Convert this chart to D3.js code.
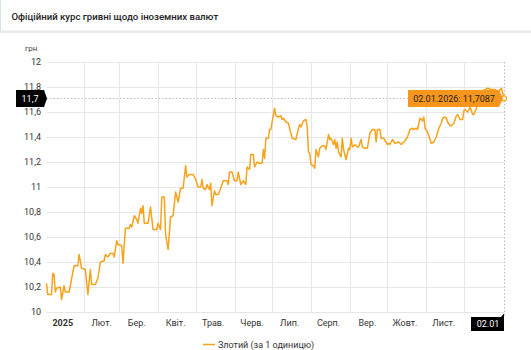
<!DOCTYPE html>
<html>
<head>
<meta charset="utf-8">
<script src="https://cdn.jsdelivr.net/npm/d3@7"></script>
<style>
  body { margin: 0; background: #fff; font-family: Roboto, "Noto Sans", sans-serif; }
  svg { display: block; }
</style>
</head>
<body>
<div id="chart"></div>
<script>
// --- Data ---
const title = "Офіційний курс гривні щодо іноземних валют";
const seriesName = "Злотий (за 1 одиницю)";
const unitLabel = "грн";

const dates = [
  "2025-01-02","2025-01-03","2025-01-06","2025-01-07","2025-01-08","2025-01-09","2025-01-10","2025-01-13",
  "2025-01-14","2025-01-16","2025-01-17","2025-01-20","2025-01-21","2025-01-24","2025-01-27","2025-01-28",
  "2025-01-30","2025-02-02","2025-02-04","2025-02-06","2025-02-07","2025-02-10","2025-02-12","2025-02-14",
  "2025-02-17","2025-02-18","2025-02-20","2025-02-22","2025-02-24","2025-02-25","2025-02-27","2025-02-28",
  "2025-03-03","2025-03-04","2025-03-06","2025-03-09","2025-03-10","2025-03-11","2025-03-13","2025-03-15",
  "2025-03-16","2025-03-18","2025-03-19","2025-03-20","2025-03-21","2025-03-24","2025-03-26","2025-03-28",
  "2025-03-31","2025-04-01","2025-04-03","2025-04-04","2025-04-06","2025-04-07","2025-04-09","2025-04-11",
  "2025-04-13","2025-04-15","2025-04-17","2025-04-19","2025-04-21","2025-04-23","2025-04-24","2025-04-26",
  "2025-04-29","2025-05-01","2025-05-03","2025-05-05","2025-05-06","2025-05-07","2025-05-09","2025-05-10",
  "2025-05-12","2025-05-13","2025-05-14","2025-05-16","2025-05-17","2025-05-19","2025-05-21","2025-05-23",
  "2025-05-26","2025-05-27","2025-05-28","2025-05-30","2025-06-01","2025-06-03","2025-06-04","2025-06-06",
  "2025-06-08","2025-06-10","2025-06-11","2025-06-13","2025-06-14","2025-06-16","2025-06-17","2025-06-19",
  "2025-06-21","2025-06-23","2025-06-24","2025-06-25","2025-06-26","2025-06-28","2025-06-29","2025-06-30",
  "2025-07-01","2025-07-03","2025-07-04","2025-07-06","2025-07-08","2025-07-09","2025-07-10","2025-07-12",
  "2025-07-14","2025-07-15","2025-07-17","2025-07-20","2025-07-22","2025-07-23","2025-07-24","2025-07-26",
  "2025-07-28","2025-07-29","2025-07-30","2025-07-31","2025-08-01","2025-08-03","2025-08-04","2025-08-05",
  "2025-08-07","2025-08-08","2025-08-10","2025-08-12","2025-08-13","2025-08-15","2025-08-16","2025-08-17",
  "2025-08-19","2025-08-20","2025-08-21","2025-08-22","2025-08-23","2025-08-25","2025-08-26","2025-08-27",
  "2025-08-29","2025-08-31","2025-09-01","2025-09-02","2025-09-03","2025-09-05","2025-09-07","2025-09-08",
  "2025-09-10","2025-09-11","2025-09-13","2025-09-15","2025-09-17","2025-09-19","2025-09-21","2025-09-22",
  "2025-09-23","2025-09-25","2025-09-26","2025-09-28","2025-10-01","2025-10-02","2025-10-03","2025-10-05",
  "2025-10-07","2025-10-10","2025-10-12","2025-10-15","2025-10-17","2025-10-19","2025-10-21","2025-10-22",
  "2025-10-24","2025-10-25","2025-10-27","2025-10-29","2025-10-30","2025-10-31","2025-11-02","2025-11-04",
  "2025-11-05","2025-11-07","2025-11-09","2025-11-11","2025-11-13","2025-11-14","2025-11-16","2025-11-17",
  "2025-11-18","2025-11-20","2025-11-21","2025-11-23","2025-11-25","2025-11-26","2025-11-28","2025-11-30",
  "2025-12-01","2025-12-02","2025-12-04","2025-12-06","2025-12-08","2025-12-09","2025-12-11","2025-12-12",
  "2025-12-14","2025-12-18","2025-12-20","2025-12-23","2025-12-26","2025-12-28","2025-12-31","2026-01-01",
  "2026-01-02"
];

const values = [
  10.23,10.14,10.14,10.31,10.30,10.16,10.19,10.20,
  10.10,10.21,10.16,10.16,10.21,10.37,10.37,10.46,
  10.35,10.34,10.14,10.34,10.22,10.22,10.27,10.40,
  10.41,10.46,10.44,10.47,10.47,10.44,10.57,10.54,
  10.53,10.39,10.67,10.67,10.70,10.68,10.77,10.74,
  10.71,10.83,10.79,10.85,10.71,10.71,10.84,10.66,
  10.66,10.71,10.66,10.92,10.92,10.62,10.50,10.76,
  10.77,10.96,10.88,10.99,10.99,11.17,11.08,11.10,
  11.10,11.06,11.00,11.00,11.06,10.99,10.98,11.02,
  10.98,11.03,10.85,10.97,10.94,10.94,10.99,11.05,
  11.05,11.02,11.12,11.12,11.05,11.05,11.12,11.02,
  11.05,11.02,11.16,11.14,11.26,11.26,11.16,11.20,
  11.19,11.19,11.30,11.23,11.39,11.39,11.46,11.46,
  11.52,11.63,11.57,11.56,11.57,11.54,11.55,11.52,
  11.51,11.47,11.39,11.38,11.47,11.50,11.48,11.53,
  11.54,11.48,11.28,11.27,11.18,11.17,11.15,11.30,
  11.24,11.31,11.33,11.33,11.30,11.42,11.38,11.39,
  11.34,11.38,11.31,11.36,11.28,11.24,11.39,11.30,
  11.22,11.31,11.30,11.39,11.32,11.34,11.32,11.32,
  11.38,11.32,11.31,11.31,11.43,11.46,11.46,11.36,
  11.46,11.46,11.39,11.39,11.34,11.35,11.34,11.38,
  11.35,11.36,11.34,11.37,11.40,11.46,11.47,11.46,
  11.47,11.46,11.55,11.53,11.56,11.47,11.44,11.38,
  11.35,11.36,11.40,11.47,11.51,11.55,11.56,11.55,
  11.52,11.49,11.49,11.51,11.57,11.58,11.54,11.54,
  11.61,11.62,11.60,11.64,11.58,11.58,11.63,11.70,
  11.76,11.78,11.79,11.78,11.78,11.76,11.79,11.75,
  11.7087
];

const yTicks = [10, 10.2, 10.4, 10.6, 10.8, 11, 11.2, 11.4, 11.6, 11.8, 12];
const monthLabels = ["2025", "Лют.", "Бер.", "Квіт.", "Трав.", "Черв.", "Лип.", "Серп.", "Вер.", "Жовт.", "Лист."];
const hoverDateLabel = "02.01";
const hoverTooltip = "02.01.2026: 11,7087";
const hoverAxisValue = "11,7";

// --- Setup ---
const width = 531, height = 350;
const lineColor = "#f7a21b";
const tipColor = "#f7961c";

const svg = d3.select("#chart").append("svg")
  .attr("width", width)
  .attr("height", height)
  .style("font-family", "Roboto, sans-serif");

const parse = d3.timeParse("%Y-%m-%d");
const data = dates.map((d, i) => ({ date: parse(d), value: values[i] }));

const x = d3.scaleTime()
  .domain([parse("2025-01-02"), parse("2026-01-02")])
  .range([46.5, 504]);

const y = d3.scaleLinear()
  .domain([10, 12])
  .range([312, 62]);

const fmt = v => d3.format(".1f")(v).replace(/\.0$/, "").replace(".", ",");

// --- Header ---
svg.append("rect")
  .attr("x", 0).attr("y", 30.5)
  .attr("width", width).attr("height", 2.5)
  .attr("fill", "#e9e9e9");
svg.append("rect")
  .attr("x", 0).attr("y", 0)
  .attr("width", 1).attr("height", 31)
  .attr("fill", "#d5e6dc");
svg.append("text")
  .attr("x", 11.5).attr("y", 19.5)
  .attr("font-size", 9.6)
  .attr("font-weight", 500)
  .attr("fill", "#222")
  .text(title);

// --- Grid ---
svg.append("g")
  .selectAll("line")
  .data(yTicks)
  .join("line")
  .attr("x1", 46.5).attr("x2", 505)
  .attr("y1", d => Math.round(y(d)) + 0.5)
  .attr("y2", d => Math.round(y(d)) + 0.5)
  .attr("stroke", "#e6e6e6");

const monthStarts = d3.timeMonth.range(parse("2025-02-01"), parse("2025-12-02"));
svg.append("g")
  .selectAll("line")
  .data(monthStarts)
  .join("line")
  .attr("x1", d => Math.round(x(d)) + 0.5)
  .attr("x2", d => Math.round(x(d)) + 0.5)
  .attr("y1", 62).attr("y2", 312)
  .attr("stroke", "#e6e6e6");

// --- Axes labels ---
svg.append("text")
  .attr("x", 25).attr("y", 51)
  .attr("font-size", 8)
  .attr("fill", "#444")
  .text(unitLabel);

svg.append("g")
  .selectAll("text")
  .data(yTicks)
  .join("text")
  .attr("x", 41)
  .attr("y", d => y(d) + 3.2)
  .attr("text-anchor", "end")
  .attr("font-size", 9)
  .attr("fill", "#333")
  .text(fmt);

const monthMids = d3.timeMonth.range(parse("2025-01-01"), parse("2025-11-02"))
  .map(d => d3.timeDay.offset(d, 14));
svg.append("g")
  .selectAll("text")
  .data(monthLabels)
  .join("text")
  .attr("x", (d, i) => x(monthMids[i]))
  .attr("y", 326)
  .attr("text-anchor", "middle")
  .attr("font-size", 9)
  .attr("font-weight", (d, i) => i === 0 ? "bold" : "normal")
  .attr("fill", "#333")
  .text(d => d);

// --- Line ---
const line = d3.line()
  .x(d => x(d.date))
  .y(d => y(d.value));

svg.append("path")
  .datum(data)
  .attr("d", line)
  .attr("fill", "none")
  .attr("stroke", lineColor)
  .attr("stroke-width", 1.5)
  .attr("stroke-linejoin", "round");

// --- Crosshair ---
const last = data[data.length - 1];
const hx = x(last.date), hy = y(last.value);

svg.append("line")
  .attr("x1", 46.5).attr("x2", hx)
  .attr("y1", Math.round(hy) + 0.5).attr("y2", Math.round(hy) + 0.5)
  .attr("stroke", "#bbb")
  .attr("stroke-dasharray", "1.5,2");
svg.append("line")
  .attr("x1", Math.round(hx) + 0.5).attr("x2", Math.round(hx) + 0.5)
  .attr("y1", 62).attr("y2", 316)
  .attr("stroke", "#bbb")
  .attr("stroke-dasharray", "1.5,2");

svg.append("circle")
  .attr("cx", hx).attr("cy", hy)
  .attr("r", 2.5)
  .attr("fill", "#fff")
  .attr("stroke", lineColor)
  .attr("stroke-width", 1.2);

// y crosshair label
svg.append("path")
  .attr("d", `M16,${hy - 8.5}H44L47,${hy}L44,${hy + 8.5}H16Z`)
  .attr("fill", "#000");
svg.append("text")
  .attr("x", 30).attr("y", hy + 3.2)
  .attr("text-anchor", "middle")
  .attr("font-size", 9)
  .attr("fill", "#fff")
  .text(hoverAxisValue);

// x crosshair label
svg.append("path")
  .attr("d", `M471,317H${hx - 3}L${hx},313.5V331H471Z`)
  .attr("fill", "#000");
svg.append("text")
  .attr("x", 488).attr("y", 327)
  .attr("text-anchor", "middle")
  .attr("font-size", 9)
  .attr("fill", "#fff")
  .text(hoverDateLabel);

// tooltip
svg.append("path")
  .attr("d", `M408,${hy - 8.5}H499L503,${hy}L499,${hy + 8.5}H408Z`)
  .attr("fill", tipColor);
svg.append("text")
  .attr("x", 454).attr("y", hy + 3.2)
  .attr("text-anchor", "middle")
  .attr("font-size", 9)
  .attr("fill", "#222")
  .text(hoverTooltip);

// --- Legend ---
svg.append("line")
  .attr("x1", 203).attr("x2", 215)
  .attr("y1", 344.5).attr("y2", 344.5)
  .attr("stroke", lineColor)
  .attr("stroke-width", 1.5);
svg.append("text")
  .attr("x", 218).attr("y", 347.5)
  .attr("font-size", 9)
  .attr("fill", "#333")
  .text(seriesName);
</script>
</body>
</html>
